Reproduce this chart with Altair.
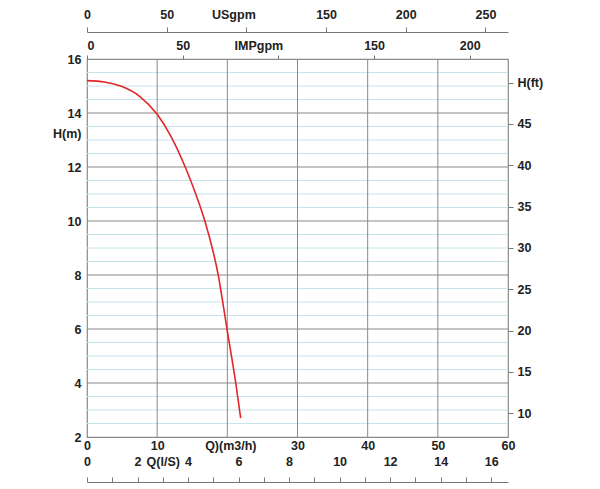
import altair as alt
import pandas as pd

# Pump curve: flow Q (m3/h) and head H (m)
q_m3h = [0, 2.5, 5, 7.5, 10, 12, 14, 15.5, 16.8, 18.7, 19.95, 21.2, 21.9]
h_m = [15.2, 15.15, 14.98, 14.62, 13.95, 13.12, 12.0, 11.0, 10.0, 8.0, 6.0, 4.0, 2.7]

# Axis / grid values
m3h_ticks = [0, 10, 20, 30, 40, 50, 60]
vgrid_m3h = [10, 20, 30, 40, 50]
hm_ticks = [2, 4, 6, 8, 10, 12, 14, 16, 13.25]
major_h = [4, 6, 8, 10, 12, 14]
minor_h = [2.5, 3, 3.5, 4.5, 5, 5.5, 6.5, 7, 7.5, 8.5, 9, 9.5, 10.5, 11, 11.5,
           12.5, 13, 13.5, 14.5, 15, 15.5]
usgpm_ticks = [0, 50, 100, 150, 200, 250]
impgpm_ticks = [0, 50, 100, 150, 200]
ls_ticks = list(range(0, 17))
ft_ticks = [10, 15, 20, 25, 30, 35, 40, 45, 50]

X_DOM = [0, 60]
Y_DOM = [2, 16]
US_DOM = [0, 60 * 4.40287]
IMP_DOM = [0, 60 * 3.66615]
LS_DOM = [0, 60 / 3.6]
FT_DOM = [7.13, 52.86]

W, H = 421, 378
MAJOR = "#8a8a8a"
MINOR = "#c4e4ea"
TICK = "#777777"

curve = pd.DataFrame({"q": q_m3h, "h": h_m})


def xs(dom):
    return alt.Scale(domain=dom, nice=False, zero=False)


minor_layer = alt.Chart(pd.DataFrame({"v": minor_h})).mark_rule(
    color=MINOR, strokeWidth=1).encode(
    y=alt.Y("v:Q", scale=xs(Y_DOM), axis=None))

major_layer = alt.Chart(pd.DataFrame({"v": major_h})).mark_rule(
    color=MAJOR, strokeWidth=1).encode(
    y=alt.Y("v:Q", scale=xs(Y_DOM), axis=None))

vgrid_layer = alt.Chart(pd.DataFrame({"v": vgrid_m3h})).mark_rule(
    color=MAJOR, strokeWidth=1).encode(
    x=alt.X("v:Q", scale=xs(X_DOM), axis=None))

curve_layer = alt.Chart(curve).mark_line(
    color="#e4262b", strokeWidth=1.6, interpolate="monotone").encode(
    x=alt.X("q:Q", scale=xs(X_DOM), title=None,
            axis=alt.Axis(orient="bottom", values=m3h_ticks, ticks=False,
                          domain=False, grid=False, labelPadding=2,
                          labelOverlap=False, labelFlush=False,
                          labelExpr="datum.value === 20 ? 'Q)(m3/h)' : datum.label",
                          labelOffset={"condition": {"test": "datum.value === 20", "value": 3}, "value": 0})),
    y=alt.Y("h:Q", scale=xs(Y_DOM), title=None,
            axis=alt.Axis(orient="left", values=hm_ticks, ticks=False,
                          domain=False, grid=False, labelPadding=6,
                          labelOverlap=False, labelFlush=False,
                          labelExpr="datum.value === 13.25 ? 'H(m)' : datum.label")),
)

us_layer = alt.Chart(pd.DataFrame({"v": usgpm_ticks})).mark_point(opacity=0).encode(
    x=alt.X("v:Q", scale=xs(US_DOM), title=None,
            axis=alt.Axis(orient="top", offset=27, values=usgpm_ticks,
                          tickSize=5, tickColor=TICK, domainColor=TICK,
                          grid=False, labelPadding=6, labelOverlap=False,
                          labelFlush=False,
                          labelExpr="datum.value === 100 ? 'USgpm' : datum.label",
                          labelOffset={"condition": {"test": "datum.value === 100", "value": -13}, "value": 0})))

imp_layer = alt.Chart(pd.DataFrame({"v": impgpm_ticks})).mark_point(opacity=0).encode(
    x=alt.X("v:Q", scale=xs(IMP_DOM), title=None,
            axis=alt.Axis(orient="top", values=impgpm_ticks, tickSize=4,
                          tickColor=TICK, domain=False, grid=False,
                          labelPadding=3, labelOverlap=False, labelFlush=True,
                          labelExpr="datum.value === 100 ? 'IMPgpm' : datum.label",
                          labelOffset={"condition": {"test": "datum.value === 100", "value": -20}, "value": 0})))

ls_layer = alt.Chart(pd.DataFrame({"v": ls_ticks})).mark_point(opacity=0).encode(
    x=alt.X("v:Q", scale=xs(LS_DOM), title=None,
            axis=alt.Axis(orient="top", offset=-(H + 45), values=ls_ticks,
                          tickSize=5, tickColor=TICK, domainColor=TICK,
                          grid=False, labelPadding=9, labelOverlap=False,
                          labelFlush=False,
                          labelExpr="datum.value % 2 === 0 ? datum.label : (datum.value === 3 ? 'Q(l/S)' : '')")))

ft_layer = alt.Chart(pd.DataFrame({"v": ft_ticks})).mark_point(opacity=0).encode(
    y=alt.Y("v:Q", scale=xs(FT_DOM), title=None,
            axis=alt.Axis(orient="right", values=ft_ticks, tickSize=5,
                          tickColor=TICK, domain=False, grid=False,
                          labelPadding=4, labelOverlap=False, labelFlush=False,
                          labelExpr="datum.value === 50 ? 'H(ft)' : datum.label")))

chart = alt.layer(
    minor_layer, major_layer, vgrid_layer, curve_layer,
    us_layer, imp_layer, ls_layer, ft_layer,
).resolve_scale(
    x="independent", y="independent"
).properties(
    width=W, height=H,
    autosize=alt.AutoSizeParams(type="none"),
    padding={"left": 87, "top": 59, "right": 92, "bottom": 52},
    background="white",
).configure_view(
    stroke=MAJOR, strokeWidth=1.2
).configure_axis(
    labelFont="Liberation Sans", labelFontSize=12.5, labelFontWeight="bold",
    labelColor="#222222"
)

chart.save("out.html", embed_options={"renderer": "svg", "actions": False})
